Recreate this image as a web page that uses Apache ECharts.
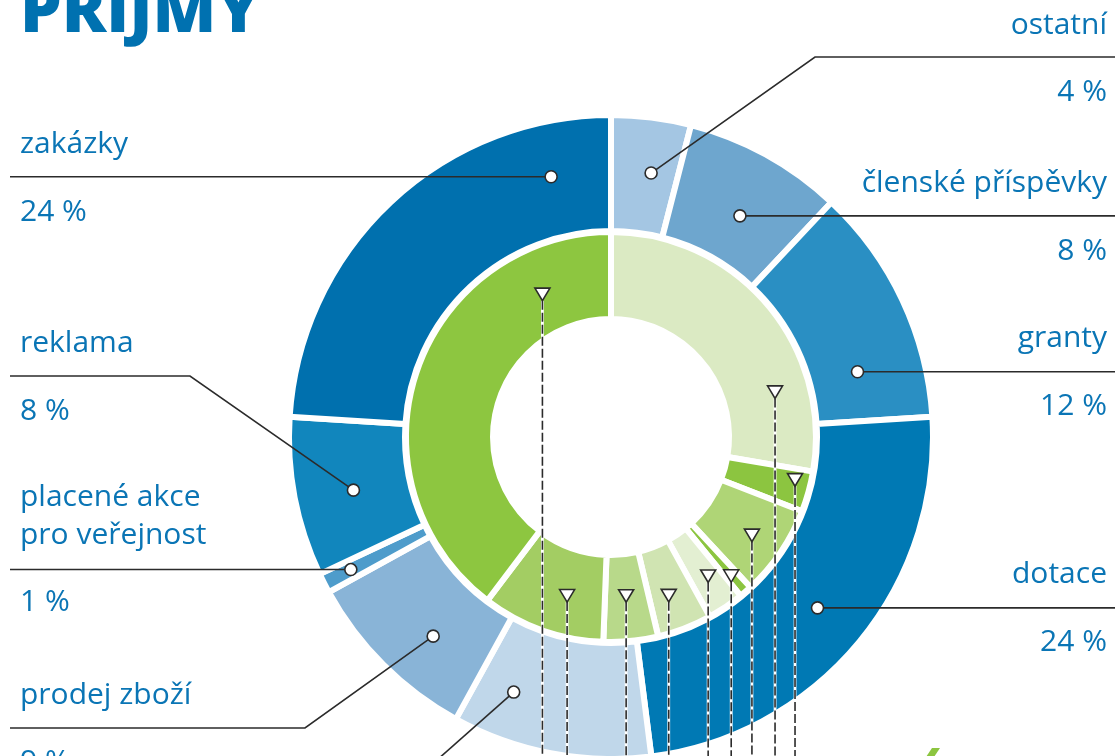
<!DOCTYPE html>
<html><head><meta charset="utf-8">
<script src="https://cdn.jsdelivr.net/npm/echarts@6/dist/echarts.min.js"></script>
<style>html,body{margin:0;padding:0;background:#fff}#c{width:1115px;height:756px}</style>
</head><body><div id="c"></div>
<script>
// ---- data ----
const outerNames = ['ostatní','členské příspěvky','granty','dotace','vstupné','prodej zboží','placené akce pro veřejnost','reklama','zakázky'];
const outerValues = [4, 8, 12, 24, 10, 9, 1, 8, 24];
const outerLabels = ['4 %','8 %','12 %','24 %','','9 %','1 %','8 %','24 %'];
const innerNames = ['zdroj 1','zdroj 2','zdroj 3','zdroj 4','zdroj 5','zdroj 6','zdroj 7','zdroj 8','zdroj 9'];
const innerValues = [27.7, 3.2, 7.2, 1.0, 2.9, 4.3, 4.3, 9.7, 39.7];
const title = 'PŘÍJMY';

// ---- style / layout ----
const outerColors = ['#a4c6e3','#6ea6ce','#2a8fc3','#0079b4','#c0d7ea','#89b4d7','#4e9ccb','#1186bd','#0070ae'];
const innerColors = ['#dbeac3','#8cc540','#afd576','#8cc540','#e3efd2','#d0e4b2','#b8d98a','#a3cd63','#8dc640'];
const CX = 611, CY = 437;
const TXT = '#0a75b5', LINE = '#2b2b2b';
const FONT = '30px "Open Sans", "Noto Sans", sans-serif';
// anchor placement inside each slice: fraction along slice and radius
const outerAnchor = [[0.6,267],[0.55,256],[0.74,255],[0.5,268],[0.78,273],[0.4,267],[0.5,292],[0.47,263],[0.85,267]];
const innerAnchor = [[0.75,170],[0.30,189],[0.53,172],[0.57,184],[0.42,170],[0.57,169],[0.51,160],[0.38,165],[0.82,158]];

function anchors(values, lay){
  const total = values.reduce((a,b)=>a+b,0);
  let cum = 0; const out = [];
  values.forEach((v,i)=>{
    const a = (cum + lay[i][0]*v)/total*2*Math.PI;
    out.push([CX + lay[i][1]*Math.sin(a), CY - lay[i][1]*Math.cos(a)]);
    cum += v;
  });
  return out;
}
const oA = anchors(outerValues, outerAnchor);
const iA = anchors(innerValues, innerAnchor);

const labelLayout = [
  {align:'right', x:1107, names:[25], pct:92, route:(p)=>[p,[815,57],[1115,57]]},
  {align:'right', x:1107, names:[183], pct:251, route:(p)=>[p,[1115,p[1]]]},
  {align:'right', x:1107, names:[338], pct:406, route:(p)=>[p,[1115,p[1]]]},
  {align:'right', x:1107, names:[574], pct:642, route:(p)=>[p,[1115,p[1]]]},
  {align:'left', x:20, names:[], pct:null, route:(p)=>[p,[428,768]]},
  {align:'left', x:20, names:[695], pct:762, route:(p)=>[p,[305,728],[10,728]]},
  {align:'left', x:20, names:[497,535], pct:602, route:(p)=>[p,[10,p[1]]]},
  {align:'left', x:20, names:[343], pct:411, route:(p)=>[p,[190,376],[10,376]]},
  {align:'left', x:20, names:[144], pct:212, route:(p)=>[p,[10,p[1]]]}
];
const nameLines = [['ostatní'],['členské příspěvky'],['granty'],['dotace'],[],['prodej zboží'],['placené akce','pro veřejnost'],['reklama'],['zakázky']];

const g = [];
g.push({type:'text', z:20, style:{text:title, x:20, y:-20, fill:'#0071b0', font:'800 66px "Open Sans", sans-serif', verticalAlign:'top'}});
labelLayout.forEach((L,i)=>{
  const pts = L.route(oA[i]);
  g.push({type:'polyline', z:20, shape:{points:pts}, style:{stroke:LINE, lineWidth:1.6, fill:null}});
  g.push({type:'circle', z:21, shape:{cx:oA[i][0], cy:oA[i][1], r:6}, style:{fill:'#fff', stroke:LINE, lineWidth:1.6}});
  nameLines[i].forEach((t,k)=>{
    g.push({type:'text', z:20, style:{text:t, x:L.x, y:L.names[k], fill:TXT, font:FONT, align:L.align, verticalAlign:'middle'}});
  });
  if (L.pct!==null) g.push({type:'text', z:20, style:{text:outerLabels[i], x:L.x, y:L.pct, fill:TXT, font:FONT, align:L.align, verticalAlign:'middle'}});
});
iA.forEach(p=>{
  g.push({type:'line', z:20, shape:{x1:p[0], y1:p[1]+6, x2:p[0], y2:770}, style:{stroke:'#fff', lineWidth:2.8}});
  g.push({type:'line', z:21, shape:{x1:p[0], y1:p[1]+6, x2:p[0], y2:770}, style:{stroke:LINE, lineWidth:1.6, lineDash:[9,3]}});
  g.push({type:'polygon', z:22, shape:{points:[[p[0]-7.5,p[1]-6.5],[p[0]+7.5,p[1]-6.5],[p[0],p[1]+6]]}, style:{fill:'#fff', stroke:LINE, lineWidth:1.6}});
});
g.push({type:'polygon', z:5, shape:{points:[[926,757],[932,748],[940,748],[934,757]]}, style:{fill:'#8cc540'}});

const chart = echarts.init(document.getElementById('c'), null, {renderer:'canvas'});
const pieBase = {type:'pie', center:[CX,CY], startAngle:90, clockwise:true, silent:true,
  label:{show:false}, labelLine:{show:false}, emphasis:{disabled:true}, avoidLabelOverlap:false,
  itemStyle:{borderColor:'#fff', borderWidth:6}};
chart.setOption({
  animation:false,
  series:[
    Object.assign({}, pieBase, {radius:[206,322], data:outerNames.map((n,i)=>({name:n, value:outerValues[i], itemStyle:{color:outerColors[i]}}))}),
    Object.assign({}, pieBase, {radius:[118,205], data:innerNames.map((n,i)=>({name:n, value:innerValues[i], itemStyle:{color:innerColors[i]}}))})
  ],
  graphic:{elements:g}
});
</script></body></html>
